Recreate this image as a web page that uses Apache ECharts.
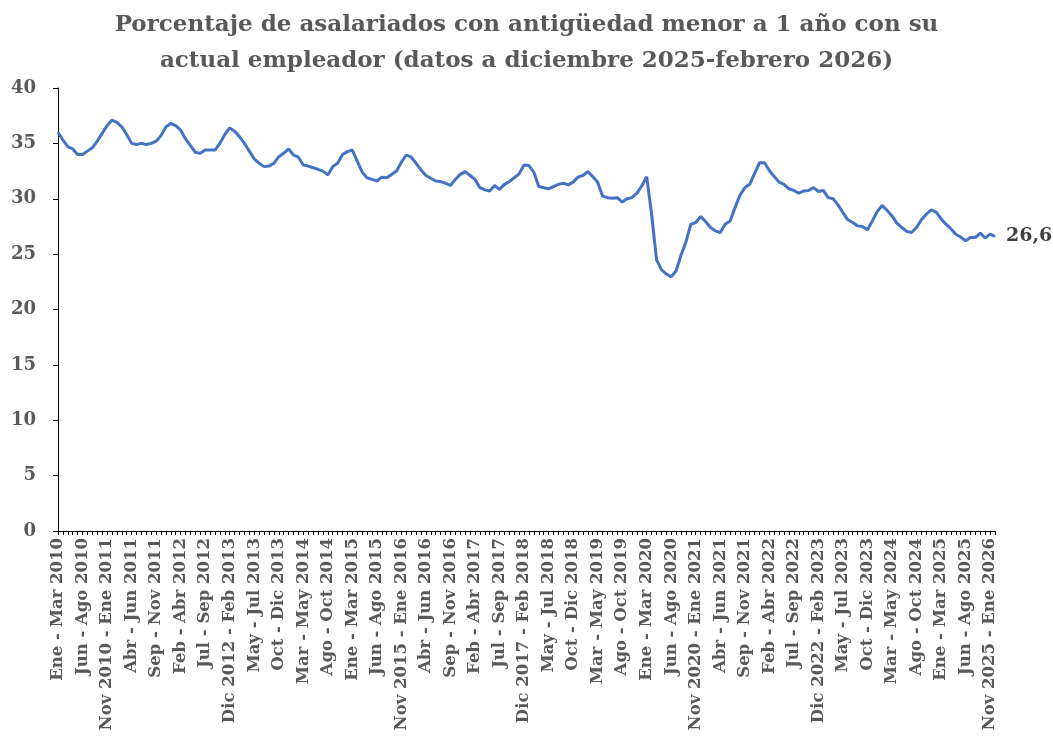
<!DOCTYPE html>
<html>
<head>
<meta charset="utf-8">
<script src="https://cdn.jsdelivr.net/npm/echarts@6/dist/echarts.min.js"></script>
<style>
  html, body { margin: 0; padding: 0; background: #fff; }
  #chart { width: 1053px; height: 741px; }
</style>
</head>
<body>
<div id="chart"></div>
<script>
// trimestres moviles: Ene-Mar 2010 ... Dic 2025-Feb 2026
const months = ['Ene', 'Feb', 'Mar', 'Abr', 'May', 'Jun', 'Jul', 'Ago', 'Sep', 'Oct', 'Nov', 'Dic']
const firstYear = 2010
const lastYear = 2025

const values = [
  36.0, 35.3, 34.7, 34.5, 34.0, 34.0, 34.3, 34.6, 35.2, 35.9,
  36.6, 37.1, 36.9, 36.5, 35.8, 35.0, 34.9, 35.0, 34.9, 35.0,
  35.2, 35.7, 36.5, 36.8, 36.6, 36.2, 35.4, 34.8, 34.2, 34.1,
  34.4, 34.4, 34.4, 35.0, 35.8, 36.4, 36.1, 35.6, 35.0, 34.3,
  33.6, 33.2, 32.9, 32.95, 33.2, 33.8, 34.1, 34.5, 33.95, 33.75,
  33.05, 32.95, 32.8, 32.65, 32.5, 32.15, 32.9, 33.2, 34.0, 34.25,
  34.4, 33.4, 32.4, 31.9, 31.75, 31.6, 31.95, 31.9, 32.2, 32.5,
  33.3, 33.95, 33.75, 33.2, 32.6, 32.1, 31.85, 31.6, 31.55, 31.4,
  31.2, 31.75, 32.2, 32.45, 32.1, 31.75, 31.0, 30.8, 30.7, 31.2,
  30.85, 31.3, 31.55, 31.9, 32.25, 33.05, 33.0, 32.4, 31.1, 31.0,
  30.9, 31.1, 31.3, 31.4, 31.25, 31.5, 31.95, 32.1, 32.45, 32.0,
  31.5, 30.25, 30.1, 30.05, 30.1, 29.7, 30.0, 30.1, 30.5, 31.15,
  32.0, 28.6, 24.5, 23.6, 23.2, 22.95, 23.5, 24.9, 26.1, 27.7,
  27.85, 28.4, 27.95, 27.4, 27.1, 26.95, 27.7, 28.0, 29.2, 30.3,
  31.0, 31.3, 32.3, 33.25, 33.25, 32.55, 32.0, 31.5, 31.3, 30.9,
  30.75, 30.5, 30.7, 30.75, 31.0, 30.65, 30.75, 30.1, 30.0, 29.45,
  28.75, 28.1, 27.85, 27.55, 27.5, 27.2, 28.0, 28.85, 29.4, 28.95,
  28.45, 27.8, 27.4, 27.05, 26.95, 27.4, 28.1, 28.6, 29.0, 28.8,
  28.2, 27.7, 27.3, 26.8, 26.55, 26.2, 26.5, 26.5, 26.9, 26.45,
  26.8, 26.6
]

const categories = []
for (let y = firstYear; y <= lastYear; y++) {
  for (let m = 0; m < 12; m++) {
    const end = m + 2
    if (end < 12) {
      categories.push(months[m] + ' - ' + months[end] + ' ' + y)
    } else {
      categories.push(months[m] + ' ' + y + ' - ' + months[end - 12] + ' ' + (y + 1))
    }
  }
}

const font = 'DejaVu Serif'
const grey = '#595959'

const chart = echarts.init(document.getElementById('chart'))

const option = {
  animation: false,
  title: {
    text: 'Porcentaje de asalariados con antigüedad menor a 1 año con su\nactual empleador (datos a diciembre 2025-febrero 2026)',
    left: 'center',
    top: 2,
    textStyle: {
      fontFamily: font,
      fontWeight: 'bold',
      fontSize: 23,
      lineHeight: 36,
      color: grey
    }
  },
  grid: {
    left: 58,
    right: 58,
    top: 88,
    bottom: 210
  },
  xAxis: {
    type: 'category',
    boundaryGap: false,
    data: categories,
    axisLine: { lineStyle: { color: '#000', width: 1 } },
    axisTick: { interval: 0, length: 4, lineStyle: { color: '#000' } },
    axisLabel: {
      interval: 4,
      rotate: 90,
      margin: 7,
      fontFamily: font,
      fontWeight: 'bold',
      fontSize: 16.5,
      color: grey
    },
    splitLine: { show: false }
  },
  yAxis: {
    type: 'value',
    min: 0,
    max: 40,
    interval: 5,
    axisLine: { show: true, lineStyle: { color: '#000', width: 1 } },
    axisTick: { show: true, length: 5, lineStyle: { color: '#000' } },
    axisLabel: {
      margin: 22,
      fontFamily: font,
      fontWeight: 'bold',
      fontSize: 18,
      color: grey
    },
    splitLine: { show: false }
  },
  series: [
    {
      type: 'line',
      data: values,
      showSymbol: false,
      symbol: 'none',
      lineStyle: { color: '#4472C4', width: 3 },
      itemStyle: { color: '#4472C4' },
      endLabel: {
        show: true,
        distance: 11,
        formatter: p => String(p.value).replace('.', ','),
        fontFamily: font,
        fontWeight: 'bold',
        fontSize: 19,
        color: '#404040'
      }
    }
  ]
}

chart.setOption(option)
</script>
</body>
</html>
